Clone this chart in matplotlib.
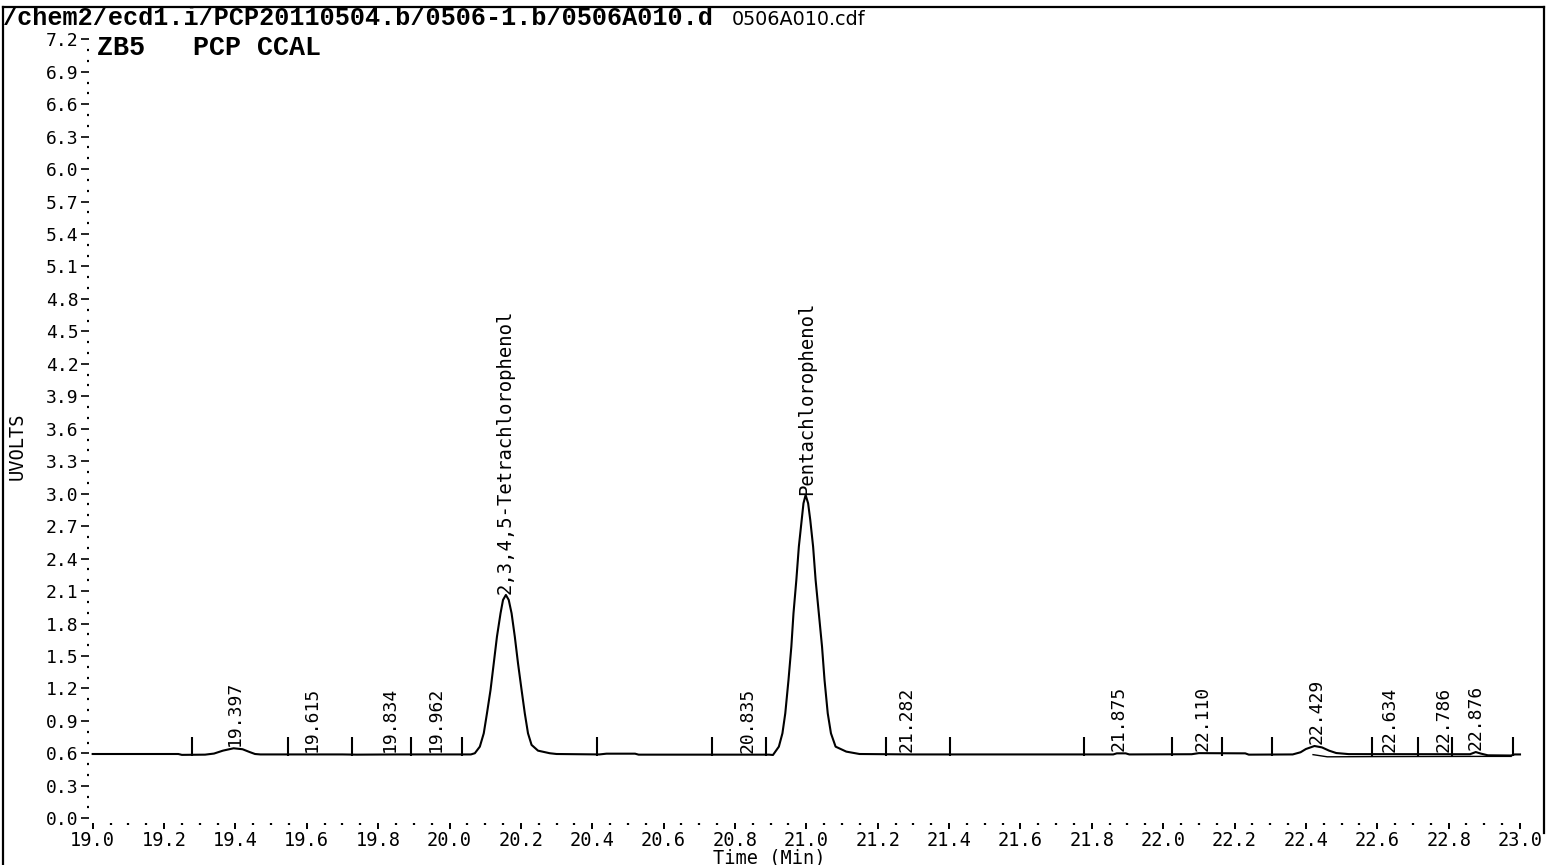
import matplotlib
matplotlib.use("Agg")
import matplotlib.pyplot as plt
import numpy as np
from matplotlib.lines import Line2D

# ---------------- data ----------------
trace_time = [19.000, 19.240, 19.250, 19.315, 19.340, 19.365, 19.395, 19.420, 19.440,
              19.455, 19.470, 19.700, 19.740, 19.850, 20.060,
              20.071, 20.085, 20.096, 20.105, 20.115, 20.124, 20.133, 20.143, 20.150,
              20.158, 20.166, 20.174, 20.183, 20.192, 20.202, 20.211, 20.220, 20.230,
              20.248, 20.281, 20.300, 20.420, 20.440, 20.520, 20.530, 20.895,
              20.9065, 20.923, 20.933, 20.941, 20.950, 20.958, 20.964, 20.972, 20.979,
              20.987, 20.992, 20.998, 21.005, 21.011, 21.019, 21.026, 21.035, 21.044,
              21.051, 21.060, 21.069, 21.082, 21.112, 21.149, 21.300, 21.860, 21.870,
              21.895, 21.905, 22.080, 22.100, 22.230, 22.240, 22.363, 22.385, 22.400,
              22.424, 22.445, 22.465, 22.485, 22.520, 22.860, 22.876, 22.890, 22.910,
              22.975, 22.985, 23.000]
trace_uv = [0.594, 0.594, 0.586, 0.588, 0.598, 0.625, 0.647, 0.638, 0.612,
            0.594, 0.590, 0.590, 0.588, 0.590, 0.590,
            0.601, 0.662, 0.785, 0.970, 1.186, 1.432, 1.679, 1.894, 2.018,
            2.064, 2.018, 1.894, 1.679, 1.432, 1.186, 0.970, 0.785, 0.678,
            0.625, 0.601, 0.594, 0.590, 0.597, 0.597, 0.588, 0.588,
            0.585, 0.662, 0.785, 0.970, 1.278, 1.586, 1.894, 2.202, 2.510,
            2.757, 2.911, 2.988, 2.911, 2.757, 2.510, 2.202, 1.894, 1.586,
            1.278, 0.970, 0.785, 0.662, 0.616, 0.594, 0.590, 0.590, 0.600,
            0.600, 0.590, 0.592, 0.602, 0.600, 0.588, 0.590, 0.610, 0.640,
            0.668, 0.655, 0.625, 0.603, 0.593, 0.592, 0.612, 0.598, 0.582,
            0.580, 0.590, 0.590]

# integration baseline drawn under the late peaks
base_time = [22.420, 22.460, 22.600, 22.900, 22.975]
base_uv = [0.588, 0.568, 0.570, 0.572, 0.572]

# peak start/stop markers
marker_times = [19.278, 19.547, 19.728, 19.892, 20.036, 20.414, 20.737, 20.886,
                21.224, 21.404, 21.779, 22.025, 22.164, 22.304, 22.585, 22.715,
                22.810, 22.979]

# peak labels
label_times = [19.397, 19.615, 19.834, 19.962, 20.156, 20.835, 21.000, 21.282,
               21.875, 22.110, 22.429, 22.634, 22.786, 22.876]
label_texts = ["19.397", "19.615", "19.834", "19.962", "2,3,4,5-Tetrachlorophenol",
               "20.835", "Pentachlorophenol", "21.282", "21.875", "22.110",
               "22.429", "22.634", "22.786", "22.876"]

x_ticks = [19.0, 19.2, 19.4, 19.6, 19.8, 20.0, 20.2, 20.4, 20.6, 20.8, 21.0,
           21.2, 21.4, 21.6, 21.8, 22.0, 22.2, 22.4, 22.6, 22.8, 23.0]
x_tick_labels = ["19.0", "19.2", "19.4", "19.6", "19.8", "20.0", "20.2", "20.4",
                 "20.6", "20.8", "21.0", "21.2", "21.4", "21.6", "21.8", "22.0",
                 "22.2", "22.4", "22.6", "22.8", "23.0"]
y_ticks = [0.0, 0.3, 0.6, 0.9, 1.2, 1.5, 1.8, 2.1, 2.4, 2.7, 3.0, 3.3, 3.6, 3.9,
           4.2, 4.5, 4.8, 5.1, 5.4, 5.7, 6.0, 6.3, 6.6, 6.9, 7.2]
y_tick_labels = ["0.0", "0.3", "0.6", "0.9", "1.2", "1.5", "1.8", "2.1", "2.4",
                 "2.7", "3.0", "3.3", "3.6", "3.9", "4.2", "4.5", "4.8", "5.1",
                 "5.4", "5.7", "6.0", "6.3", "6.6", "6.9", "7.2"]

title_path = "/chem2/ecd1.i/PCP20110504.b/0506-1.b/0506A010.d"
file_name = "0506A010.cdf"
method_text = "ZB5   PCP CCAL"
x_label = "Time (Min)"
y_label = "UVOLTS"

# ---------------- figure ----------------
W, H = 1546, 865
fig = plt.figure(figsize=(W / 100, H / 100), dpi=100)
fig.patch.set_facecolor("white")

ax_l, ax_r, ax_b, ax_t = 89.1, 1530.7, 822.6, 23.0
ax = fig.add_axes([ax_l / W, (H - ax_b) / H, (ax_r - ax_l) / W, (ax_b - ax_t) / H])
ax.set_xlim(18.99, 23.03)
ax.set_ylim(-0.04, 7.35)
ax.patch.set_alpha(0)
for s in ax.spines.values():
    s.set_visible(False)

mono = "DejaVu Sans Mono"
ax.set_xticks(x_ticks)
ax.set_xticklabels(x_tick_labels, family=mono, fontsize=13.4)
ax.set_yticks(y_ticks)
ax.set_yticklabels(y_tick_labels, family=mono, fontsize=13)
ax.set_xticks(np.arange(19.0, 23.001, 0.05), minor=True)
ax.set_yticks(np.arange(0.0, 7.21, 0.1), minor=True)
ax.tick_params(axis="x", which="major", direction="out", length=4.5, width=1.4, pad=1.5)
ax.tick_params(axis="x", which="minor", direction="out", length=1.4, width=1.6)
ax.tick_params(axis="y", which="major", direction="out", length=6, width=1.2, pad=1.5)
ax.tick_params(axis="y", which="minor", direction="out", length=1.4, width=1.6)

# trace
ax.plot(trace_time, trace_uv, color="black", lw=1.5, solid_joinstyle="round")
ax.plot(base_time, base_uv, color="black", lw=1.0)
# markers
ax.vlines(marker_times, 0.575, 0.755, color="black", lw=1.5)

# labels
lab_y = np.interp(label_times, trace_time, trace_uv)
for t, y, s in zip(label_times, lab_y, label_texts):
    size = 13 if s[0].isdigit() and "-" not in s else 13.6
    ax.annotate(s, (t, y), xytext=(0, 1.5), textcoords="offset points",
                rotation=90, ha="center", va="bottom", family=mono, fontsize=size)

# axis labels
fig.text(769 / W, 1 - 849 / H, x_label, ha="center", va="top", family=mono, fontsize=13.4)
fig.text(17 / W, 1 - 446 / H, y_label, ha="center", va="center", rotation=90,
         family=mono, fontsize=13.5)

# header texts
fig.text(3 / W, 1 - 25 / H, title_path, ha="left", va="baseline",
         family="Liberation Mono", fontsize=18.1, weight="bold")
fig.text(732 / W, 1 - 25 / H, file_name, ha="left", va="baseline", family="DejaVu Sans", fontsize=13.8)
fig.text(97 / W, 1 - 55 / H, method_text, ha="left", va="baseline",
         family="Liberation Mono", fontsize=19.3, weight="bold")

# frame
fig.add_artist(Line2D([3 / W, 3 / W], [0, 1 - 7 / H], transform=fig.transFigure, color="black", lw=1.6))
fig.add_artist(Line2D([3 / W, 1544 / W], [1 - 7 / H, 1 - 7 / H], transform=fig.transFigure, color="black", lw=1.6))
fig.add_artist(Line2D([1544 / W, 1544 / W], [1 - 7 / H, 1 - 833 / H], transform=fig.transFigure, color="black", lw=1.6))

fig.savefig("out.png", dpi=100, facecolor="white")
